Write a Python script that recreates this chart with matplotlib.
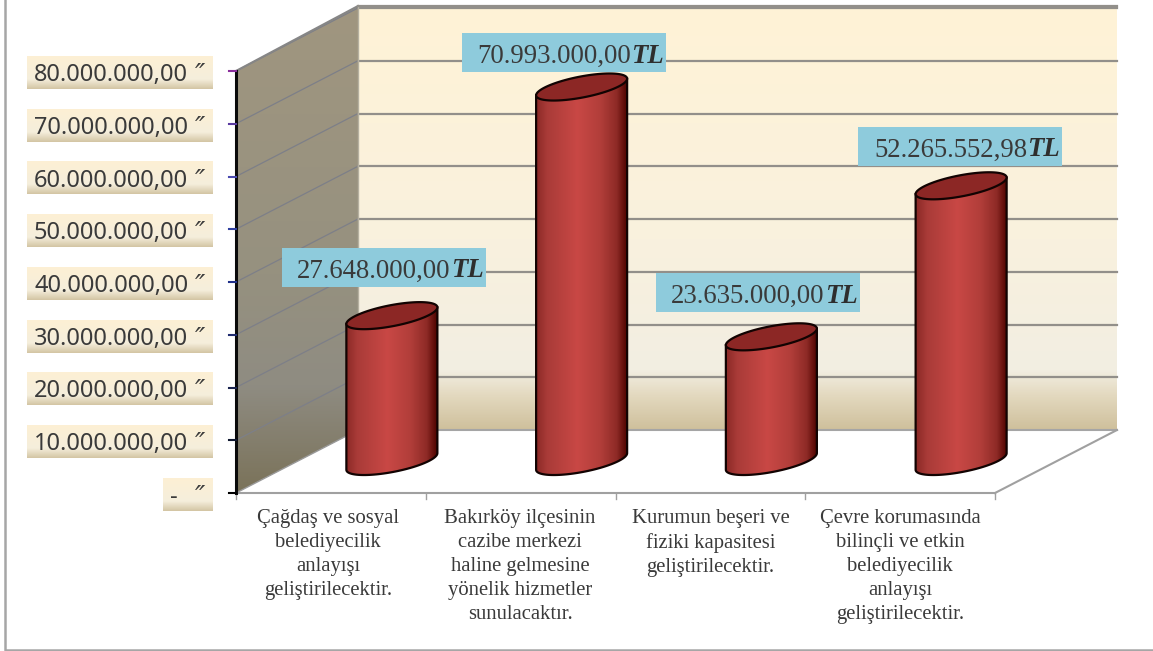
import numpy as np
import matplotlib
matplotlib.use("Agg")
import matplotlib.pyplot as plt
from matplotlib.colors import LinearSegmentedColormap
from matplotlib.patches import Polygon, Rectangle

# data
categories = [
    "Çağdaş ve sosyal\nbelediyecilik\nanlayışı\ngeliştirilecektir.",
    "Bakırköy ilçesinin\ncazibe merkezi\nhaline gelmesine\nyönelik hizmetler\nsunulacaktır.",
    "Kurumun beşeri ve\nfiziki kapasitesi\ngeliştirilecektir.",
    "Çevre korumasında\nbilinçli ve etkin\nbelediyecilik\nanlayışı\ngeliştirilecektir.",
]
values = [27648000, 70993000, 23635000, 52265552.98]
value_labels = ["27.648.000,00", "70.993.000,00", "23.635.000,00", "52.265.552,98"]
y_ticks = [0, 10000000, 20000000, 30000000, 40000000, 50000000, 60000000, 70000000, 80000000]
y_tick_labels = ["-", "10.000.000,00", "20.000.000,00", "30.000.000,00", "40.000.000,00",
                 "50.000.000,00", "60.000.000,00", "70.000.000,00", "80.000.000,00"]
y_tick_colors = ["#000000", "#101830", "#1a2450", "#202c70", "#20308a",
                 "#3040a0", "#4a4ab0", "#5a3aa0", "#8a2f9c"]

# layout in pixels
W, H = 1153, 651
AX_LEFT, AX_BOTTOM = 236, 493
CAT_PX = 189.75
VAL_PX = 52.75 / 1e7
DEPTH_X, DEPTH_Y = 122, 63
BAR_A, BAR_B, BAR_ANGLE = 46.3, 10.5, np.radians(10.9)
# label box offset from the top of the bar
box_offsets = [(-8, -48.2), (-18, -34.5), (-13.5, -44.3), (-1, -39.3)]
cat_shift = [-3, -0.5, 0, 0]

fig = plt.figure(figsize=(W / 100, H / 100), dpi=100)
ax = fig.add_axes([0, 0, 1, 1])
ax.axis("off")


def X(px):
    return (np.asarray(px, dtype=float) - AX_LEFT) / CAT_PX


def Y(py):
    return (AX_BOTTOM - np.asarray(py, dtype=float)) / VAL_PX


def gradient(stops, extent, clip=None, horizontal=False, zorder=1):
    cmap = LinearSegmentedColormap.from_list("g", stops)
    ramp = np.linspace(0, 1, 256)
    ramp = ramp.reshape(1, -1) if horizontal else ramp.reshape(-1, 1)
    x0, x1, y0, y1 = extent
    im = ax.imshow(ramp, cmap=cmap, aspect="auto", origin="upper", zorder=zorder,
                   extent=(X(x0), X(x1), Y(y1), Y(y0)), vmin=0, vmax=1)
    if clip is not None:
        patch = Polygon(np.column_stack([X(clip[:, 0]), Y(clip[:, 1])]), closed=True,
                        transform=ax.transData, fc="none", ec="none")
        ax.add_patch(patch)
        im.set_clip_path(patch)
    return im


def ellipse_points(cx, cy, t):
    dx = BAR_A * np.cos(t) * np.cos(BAR_ANGLE) + BAR_B * np.sin(t) * np.sin(BAR_ANGLE)
    dy = -BAR_A * np.cos(t) * np.sin(BAR_ANGLE) + BAR_B * np.sin(t) * np.cos(BAR_ANGLE)
    return cx + dx, cy + dy


front_top = AX_BOTTOM - max(y_ticks) * VAL_PX
back_left = AX_LEFT + DEPTH_X
back_right = AX_LEFT + 4 * CAT_PX + DEPTH_X
back_bottom = AX_BOTTOM - DEPTH_Y
back_top = front_top - DEPTH_Y - 2

# back wall
gradient([(0, "#fff3d6"), (0.55, "#f9f1de"), (0.86, "#f2eee2"), (0.92, "#e3d9bf"), (1, "#cfc09c")],
         (back_left, back_right, back_top, back_bottom))

# side wall
side = np.array([[AX_LEFT, front_top], [back_left, back_top], [back_left, back_bottom], [AX_LEFT, AX_BOTTOM]])
gradient([(0, "#a09680"), (0.55, "#96917f"), (0.78, "#8f8c82"), (1, "#7a7259")],
         (AX_LEFT, back_left, back_top, AX_BOTTOM), clip=side)

# gridlines
for v in y_ticks:
    fy = AX_BOTTOM - v * VAL_PX
    if v > 0:
        ax.plot(X([AX_LEFT, back_left]), Y([fy, fy - DEPTH_Y]), color="#7d7f88", lw=0.9, zorder=2)
        ax.plot(X([back_left, back_right]), Y([fy - DEPTH_Y, fy - DEPTH_Y]), color="#928f8a", lw=1.6, zorder=2)
ax.plot(X([back_left, back_left]), Y([back_top, back_bottom]), color="#b5b0a0", lw=1, zorder=2)
ax.plot(X([AX_LEFT, back_left]), Y([front_top, back_top]), color="#868686", lw=1.5, zorder=2)
ax.plot(X([back_left, back_right]), Y([back_top, back_top]), color="#928f8a", lw=1.6, zorder=2)

# floor
ax.plot(X([AX_LEFT, back_left]), Y([AX_BOTTOM, back_bottom]), color="#9a9a9a", lw=1, zorder=2)
ax.plot(X([back_left, back_right]), Y([back_bottom, back_bottom]), color="#a5a5a5", lw=1.5, zorder=2)
ax.plot(X([AX_LEFT + 4 * CAT_PX, back_right]), Y([AX_BOTTOM, back_bottom]), color="#a0a0a0", lw=1.5, zorder=2)
ax.plot(X([AX_LEFT, AX_LEFT + 4 * CAT_PX]), Y([AX_BOTTOM, AX_BOTTOM]), color="#a0a0a0", lw=1.5, zorder=2)
for i in range(5):
    ax.plot([i, i], Y([AX_BOTTOM, AX_BOTTOM + 6]), color="#a0a0a0", lw=1, zorder=2)

# value axis
ax.plot(X([AX_LEFT, AX_LEFT]), Y([front_top, AX_BOTTOM]), color="#0a0a0a", lw=2.2, zorder=3)
for v, label, c in zip(y_ticks, y_tick_labels, y_tick_colors):
    fy = AX_BOTTOM - v * VAL_PX
    ax.plot(X([229, AX_LEFT]), [v, v], color=c, lw=1.5, zorder=3)
    left = 163 if v == 0 else 27
    gradient([(0, "#fdf0d4"), (0.7, "#f5eedc"), (1, "#d3c5a3")], (left, 213, fy - 15, fy + 18), zorder=3)
    ax.text(X(34 if v else 170), Y(fy + 10), label, ha="left", va="baseline", fontsize=17,
            family="Noto Sans", color="#3a3a3a", zorder=5)
    ax.text(X(205), Y(fy + 13), "″", ha="right", va="baseline", fontsize=20, style="italic",
            color="#3a3a3a", zorder=5)

# cylinders
t_right = np.arctan2(BAR_B * np.sin(BAR_ANGLE), BAR_A * np.cos(BAR_ANGLE))
half = np.linspace(t_right, t_right + np.pi, 60)
full = np.linspace(0, 2 * np.pi, 120)
bar_stops = [(0, "#8a2926"), (0.12, "#a93b38"), (0.45, "#c94845"), (0.7, "#b23e3a"),
             (0.88, "#8e2a26"), (0.97, "#5a0a06"), (1, "#4a0603")]
for i, v in enumerate(values):
    cx = AX_LEFT + (i + 0.5) * CAT_PX + DEPTH_X / 2
    base = AX_BOTTOM - DEPTH_Y / 2
    top = base - v * VAL_PX
    bx, by = ellipse_points(cx, base, half)
    tx, ty = ellipse_points(cx, top, half)
    body = np.column_stack([np.r_[bx, tx[-1], tx[0]], np.r_[by, ty[-1], ty[0]]])
    gradient(bar_stops, (bx.min(), bx.max(), ty.min(), by.max()), clip=body, horizontal=True, zorder=4)
    ax.plot(X(np.r_[tx[0], bx, tx[-1]]), Y(np.r_[ty[0], by, ty[-1]]), color="#120302", lw=1.6, zorder=4.1)
    ex, ey = ellipse_points(cx, top, full)
    ax.fill(X(ex), Y(ey), fc="#8c2725", ec="#120302", lw=1.6, zorder=4.2)

    # value label
    ox, oy = box_offsets[i]
    bcx, bcy = cx + ox, top + oy
    ax.add_patch(Rectangle((X(bcx - 102), Y(bcy + 19.5)), 204 / CAT_PX, 39 / VAL_PX,
                           fc="#8ecbdc", ec="none", zorder=5))
    ax.text(X(bcx + 67), Y(bcy + 10), value_labels[i], ha="right", va="baseline", fontsize=19.3,
            family="Liberation Serif", color="#3a3a3a", zorder=6)
    ax.text(X(bcx + 67), Y(bcy + 10), "TL", ha="left", va="baseline", fontsize=19.3, weight="bold",
            style="italic", family="Liberation Serif", color="#2e2e2e", zorder=6)

    # category label
    ax.text(i + 0.5 + cat_shift[i] / CAT_PX, Y(509), categories[i], ha="center", va="top", fontsize=14.9,
            family="Liberation Serif", color="#3a3a3a", linespacing=1.35, zorder=6)

# outer frame
ax.plot(X([5, 5, W]), Y([0, 650, 650]), color="#a6a6a6", lw=1.8, zorder=6, clip_on=False)

ax.set_xlim(X(0), X(W))
ax.set_ylim(Y(H), Y(0))
fig.savefig("out.png", dpi=100)
